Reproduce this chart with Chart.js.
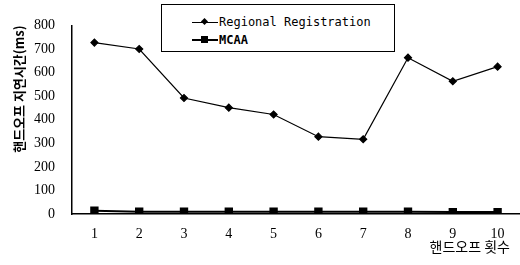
<!DOCTYPE html>
<html>
<head>
<meta charset="utf-8">
<script src="https://cdn.jsdelivr.net/npm/chart.js@4"></script>
<style>
  body { margin: 0; background: #fff; }
  #wrap { position: relative; width: 520px; height: 265px; }
  #legend {
    position: absolute; left: 161px; top: 4px; width: 232px; height: 46px;
    border: 1px solid #000; background: #fff;
    font-family: "DejaVu Sans Mono", monospace; font-size: 12px; color: #000;
  }
  .item { position: absolute; left: 30px; height: 14px; line-height: 14px; }
  .line { position: absolute; left: 0; top: 7px; width: 26px; border-top: 1px solid #000; }
  .mark { position: absolute; background: #000; }
  .txt { position: absolute; left: 27px; top: 0; white-space: nowrap; }
  #xtitle {
    position: absolute; right: 10px; top: 236px;
    font-family: "Noto Sans CJK KR", sans-serif; font-size: 14px; color: #000;
  }
</style>
</head>
<body>
<div id="wrap">
  <canvas id="myChart" width="520" height="265"></canvas>
  <div id="legend">
    <div class="item" style="top:10px">
      <span class="line"></span>
      <span class="mark" style="left:10px;top:4px;width:5px;height:5px;transform:rotate(45deg)"></span>
      <span class="txt">Regional Registration</span>
    </div>
    <div class="item" style="top:28px">
      <span class="line" style="border-top-width:2px;top:6px"></span>
      <span class="mark" style="left:9px;top:3px;width:7px;height:7px"></span>
      <span class="txt" style="font-weight:bold">MCAA</span>
    </div>
  </div>
  <div id="xtitle">핸드오프 횟수</div>
</div>
<script>
const handoffs = ["1", "2", "3", "4", "5", "6", "7", "8", "9", "10"];
const regional = [727, 700, 492, 451, 422, 328, 317, 663, 563, 625];
const mcaa = [14, 10, 10, 10, 10, 10, 10, 10, 8, 8];
const yTicks = [0, 100, 200, 300, 400, 500, 600, 700, 800];

const ctx = document.getElementById("myChart");

new Chart(ctx, {
  type: "line",
  data: {
    labels: handoffs,
    datasets: [
      {
        label: "Regional Registration",
        data: regional,
        borderColor: "#000",
        backgroundColor: "#000",
        borderWidth: 1.2,
        pointStyle: "rectRot",
        pointRadius: 3.5,
        fill: false,
      },
      {
        label: "MCAA",
        data: mcaa,
        borderColor: "#000",
        backgroundColor: "#000",
        borderWidth: 2,
        pointStyle: "rect",
        pointRadius: 4.5,
        fill: false,
      },
    ],
  },
  options: {
    responsive: false,
    animation: false,
    layout: { autoPadding: false, padding: { top: 19, right: 0, left: 0, bottom: 0 } },
    plugins: {
      legend: { display: false },
      tooltip: { enabled: false },
    },
    scales: {
      x: {
        offset: true,
        grid: { display: false, drawTicks: false },
        border: { display: true, color: "#000", width: 1.5 },
        ticks: {
          color: "#000",
          padding: 12,
          font: { family: "Liberation Serif", size: 14 },
        },
        afterFit: (scale) => { scale.height = 51; },
      },
      y: {
        min: 0,
        max: 800,
        grid: { display: false, drawTicks: false },
        border: { display: true, color: "#000", width: 1.5 },
        afterBuildTicks: (scale) => {
          scale.ticks = yTicks.map((v) => ({ value: v }));
        },
        ticks: {
          color: "#000",
          padding: 17,
          font: { family: "Liberation Serif", size: 14 },
        },
        title: {
          display: true,
          text: "핸드오프 지연시간(ms)",
          align: "end",
          color: "#000",
          padding: { top: 11, bottom: 2 },
          font: { family: "Noto Sans CJK KR", size: 13, weight: "bold" },
        },
        afterFit: (scale) => { scale.width = 72; },
      },
    },
  },
});
</script>
</body>
</html>
